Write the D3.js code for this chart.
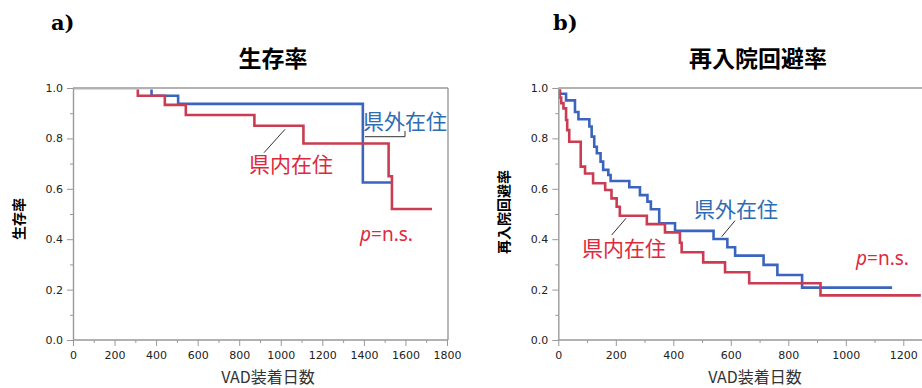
<!DOCTYPE html>
<html>
<head>
<meta charset="utf-8">
<script src="https://cdn.jsdelivr.net/npm/d3@7"></script>
<style>
  body { margin: 0; background: #fff; }
  svg { display: block; }
  .tick text { font-family: "DejaVu Sans", sans-serif; font-size: 11px; fill: #222; }
  .axis path, .axis line { stroke: #999; }
</style>
</head>
<body>
<svg id="chart" width="922" height="388"></svg>
<script>
// a) survival (生存率)
const survOutT = [0, 378, 506, 1395, 1532];
const survOutS = [1, 0.969, 0.937, 0.625, 0.625];
const survInT = [0, 312, 442, 543, 873, 1109, 1519, 1535, 1728];
const survInS = [1, 0.969, 0.933, 0.893, 0.85, 0.78, 0.65, 0.52, 0.52];
const survXTicks = [0, 200, 400, 600, 800, 1000, 1200, 1400, 1600, 1800];

// b) readmission-free (再入院回避率)
const readOutT = [0, 6, 27, 58, 70, 108, 116, 125, 134, 147, 156, 174, 182, 247, 284, 310, 322, 351, 406, 540, 588, 615, 714, 762, 848, 1161];
const readOutS = [1, 0.977, 0.951, 0.905, 0.876, 0.847, 0.807, 0.767, 0.741, 0.708, 0.675, 0.655, 0.631, 0.606, 0.575, 0.549, 0.519, 0.463, 0.433, 0.401, 0.368, 0.335, 0.298, 0.258, 0.208, 0.208];
const readInT = [0, 5, 10, 18, 27, 31, 38, 78, 93, 121, 163, 185, 203, 214, 308, 371, 423, 429, 504, 580, 664, 912, 1261];
const readInS = [1, 0.962, 0.94, 0.919, 0.873, 0.833, 0.787, 0.688, 0.661, 0.622, 0.595, 0.562, 0.529, 0.493, 0.46, 0.427, 0.386, 0.348, 0.308, 0.269, 0.225, 0.177, 0.177];
const readXTicks = [0, 200, 400, 600, 800, 1000, 1200];

const yTicks = [0, 0.2, 0.4, 0.6, 0.8, 1.0];
const yMinor = [0.1, 0.3, 0.5, 0.7, 0.9];

const blue = '#3a64bd';
const red = '#c93c52';
const cjk = '"Noto Sans CJK JP", sans-serif';

const svg = d3.select('#chart');
const defs = svg.append('defs');

function drawPanel(p) {
  const x = d3.scaleLinear().domain(p.xDomain).range([p.left, p.right]);
  const y = d3.scaleLinear().domain([0, 1]).range([340, 88]);
  const g = svg.append('g');

  // keep the 1.0 segment hidden under the frame, like the original
  defs.append('clipPath').attr('id', p.id)
    .append('rect')
    .attr('x', p.left).attr('y', 89.6)
    .attr('width', p.frameRight - p.left).attr('height', 260);

  const line = d3.line().curve(d3.curveStepAfter)
    .x(d => x(d[0])).y(d => y(d[1]));
  const curves = g.append('g').attr('clip-path', 'url(#' + p.id + ')');
  p.curves.forEach(c => {
    curves.append('path')
      .datum(d3.zip(c.t, c.s))
      .attr('fill', 'none')
      .attr('stroke', c.color)
      .attr('stroke-width', 2.6)
      .attr('d', line);
  });

  // frame top / right
  g.append('line')
    .attr('x1', p.left).attr('x2', p.frameRight)
    .attr('y1', 88).attr('y2', 88)
    .attr('stroke', '#999').attr('stroke-width', 1.4);
  if (p.frameRight < 922) {
    g.append('line')
      .attr('x1', p.frameRight).attr('x2', p.frameRight)
      .attr('y1', 88).attr('y2', 340)
      .attr('stroke', '#999').attr('stroke-width', 1.4);
  }

  // minor ticks
  const xMinor = p.xTicks.slice(0, -1).map(d => d + (p.xTicks[1] - p.xTicks[0]) / 2);
  g.append('g')
    .attr('class', 'axis')
    .attr('transform', 'translate(0,340)')
    .call(d3.axisBottom(x).tickValues(xMinor).tickSize(3).tickFormat(''))
    .call(s => s.select('.domain').remove());
  g.append('g')
    .attr('class', 'axis')
    .attr('transform', 'translate(' + p.left + ',0)')
    .call(d3.axisLeft(y).tickValues(yMinor).tickSize(3).tickFormat(''))
    .call(s => s.select('.domain').remove());

  // major axes
  g.append('g')
    .attr('class', 'axis')
    .attr('transform', 'translate(0,340)')
    .call(d3.axisBottom(x).tickValues(p.xTicks).tickSize(6).tickSizeOuter(0).tickPadding(5).tickFormat(d3.format('d')))
    .call(s => s.select('.domain').attr('stroke-width', 1.4).attr('d', 'M' + p.left + ',0H' + p.frameRight));
  g.append('g')
    .attr('class', 'axis')
    .attr('transform', 'translate(' + p.left + ',0)')
    .call(d3.axisLeft(y).tickValues(yTicks).tickSize(6).tickSizeOuter(0).tickPadding(4).tickFormat(d3.format('.1f')))
    .call(s => s.select('.domain').attr('stroke-width', 1.4));

  // titles
  g.append('text')
    .attr('x', p.labelX).attr('y', 30)
    .attr('font-family', '"DejaVu Serif", serif')
    .attr('font-weight', 'bold').attr('font-size', 21)
    .text(p.label);
  g.append('text')
    .attr('x', p.titleX).attr('y', 67)
    .attr('text-anchor', 'middle')
    .attr('font-family', cjk).attr('font-weight', 'bold').attr('font-size', 23)
    .text(p.title);
  g.append('text')
    .attr('transform', 'translate(' + p.yLabelX + ',' + p.yLabelY + ') rotate(-90)')
    .attr('text-anchor', 'middle')
    .attr('font-family', cjk).attr('font-weight', 'bold').attr('font-size', 14)
    .text(p.yLabel);
  g.append('text')
    .attr('x', p.xLabelX).attr('y', 383)
    .attr('text-anchor', 'middle')
    .attr('font-family', cjk).attr('font-size', 16).attr('fill', '#333')
    .text('VAD装着日数');

  // annotations
  p.notes.forEach(n => {
    g.append('text')
      .attr('x', n.x).attr('y', n.y)
      .attr('font-family', cjk).attr('font-size', 21)
      .attr('fill', n.color)
      .text(n.text);
  });
  p.leaders.forEach(l => {
    g.append('path')
      .attr('d', l).attr('fill', 'none')
      .attr('stroke', '#333').attr('stroke-width', 1);
  });
  const pt = g.append('text')
    .attr('x', p.pX).attr('y', p.pY)
    .attr('font-family', '"Noto Sans", sans-serif').attr('font-size', 19)
    .attr('fill', '#e0283c');
  pt.append('tspan').attr('font-style', 'italic').text('p');
  pt.append('tspan').text('=n.s.');
}

drawPanel({
  id: 'clipA',
  xDomain: [0, 1800], left: 73, right: 447, frameRight: 448, xTicks: survXTicks,
  label: 'a)', labelX: 51, title: '生存率', titleX: 273,
  yLabel: '生存率', yLabelX: 24, yLabelY: 219, xLabelX: 268,
  curves: [
    { t: survOutT, s: survOutS, color: blue },
    { t: survInT, s: survInS, color: red }
  ],
  notes: [
    { text: '県外在住', x: 363, y: 129, color: '#2e6db4' },
    { text: '県内在住', x: 249, y: 172, color: '#e0283c' }
  ],
  leaders: [
    'M365,136.7H405V131',
    'M264,152.7L285,129.3'
  ],
  pX: 360, pY: 241
});

drawPanel({
  id: 'clipB',
  xDomain: [0, 1200], left: 558.3, right: 903.3, frameRight: 922, xTicks: readXTicks,
  label: 'b)', labelX: 553, title: '再入院回避率', titleX: 758,
  yLabel: '再入院回避率', yLabelX: 509, yLabelY: 212, xLabelX: 755,
  curves: [
    { t: readOutT, s: readOutS, color: blue },
    { t: readInT, s: readInS, color: red }
  ],
  notes: [
    { text: '県外在住', x: 694, y: 217, color: '#2e6db4' },
    { text: '県内在住', x: 582, y: 256, color: '#e0283c' }
  ],
  leaders: [
    'M721.7,236.7L735,220.7',
    'M611.7,235L626,218.3'
  ],
  pX: 856, pY: 265
});
</script>
</body>
</html>
